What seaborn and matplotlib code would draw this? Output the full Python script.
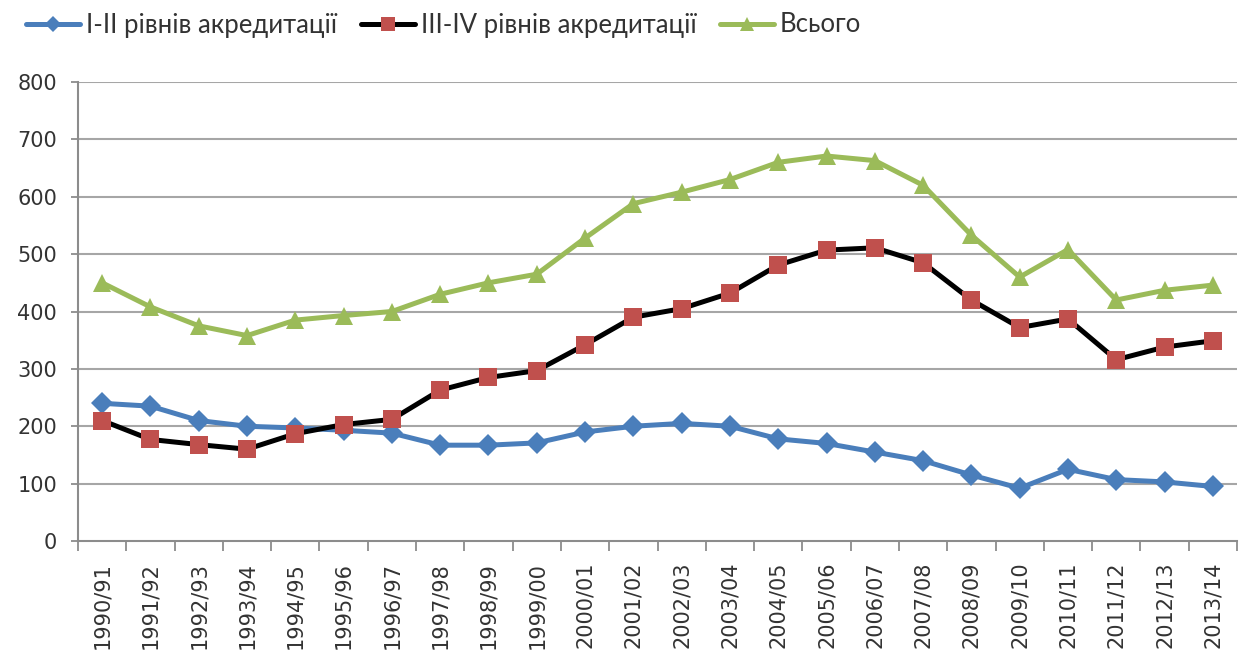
import matplotlib
matplotlib.use("Agg")
import matplotlib.pyplot as plt
import seaborn as sns
import pandas as pd
from matplotlib.ticker import FixedLocator

years = ["1990/91", "1991/92", "1992/93", "1993/94", "1994/95", "1995/96",
         "1996/97", "1997/98", "1998/99", "1999/00", "2000/01", "2001/02",
         "2002/03", "2003/04", "2004/05", "2005/06", "2006/07", "2007/08",
         "2008/09", "2009/10", "2010/11", "2011/12", "2012/13", "2013/14"]
level_1_2 = [240, 235, 210, 200, 197, 193, 188, 167, 167, 171, 190, 200,
             205, 200, 178, 170, 155, 140, 115, 92, 125, 107, 103, 95]
level_3_4 = [210, 177, 168, 160, 187, 203, 212, 263, 285, 297, 342, 390,
             405, 432, 481, 507, 511, 485, 420, 372, 387, 316, 338, 349]
total = [450, 408, 375, 358, 385, 393, 400, 430, 450, 465, 528, 588,
         608, 630, 660, 671, 663, 620, 533, 460, 508, 420, 437, 446]

names = ["I-II рівнів акредитації", "III-IV рівнів акредитації", "Всього"]

sns.set_theme(style="white")
plt.rcParams["font.family"] = ["DejaVu Sans"]

fig = plt.figure(figsize=(12.41, 6.59), dpi=100)
ax = fig.add_axes([78 / 1241, (659 - 541) / 659, (1237 - 78) / 1241, (541 - 82) / 659])

df1 = pd.DataFrame({"year": years, "value": level_1_2})
df2 = pd.DataFrame({"year": years, "value": level_3_4})
df3 = pd.DataFrame({"year": years, "value": total})

sns.lineplot(data=df1, x="year", y="value", sort=False, ax=ax, color="#4A7EBB",
             linewidth=3.6, marker="D", markersize=11, markeredgewidth=0,
             label=names[0], zorder=3)
sns.lineplot(data=df2, x="year", y="value", sort=False, ax=ax, color="black",
             linewidth=3.6, marker="s", markersize=13, markerfacecolor="#C0504D",
             markeredgecolor="#C0504D", markeredgewidth=0, label=names[1], zorder=4)
sns.lineplot(data=df3, x="year", y="value", sort=False, ax=ax, color="#9BBB59",
             linewidth=3.6, marker="^", markersize=13, markeredgewidth=0,
             label=names[2], zorder=2)

ax.set_xlim(-0.5, len(years) - 0.5)
ax.set_ylim(0, 800)
ax.set_yticks(range(0, 801, 100))
ax.set_xlabel("")
ax.set_ylabel("")

for y in range(100, 801, 100):
    ax.axhline(y, color="#A6A6A6", linewidth=1.5, zorder=0)

for s in ["top", "right"]:
    ax.spines[s].set_visible(False)
for s in ["left", "bottom"]:
    ax.spines[s].set_color("#8C8C8C")
    ax.spines[s].set_linewidth(1.5)

ax.set_xticks(range(len(years)))
ax.set_xticklabels(years, rotation=90, fontsize=15, color="#333333")
ax.xaxis.set_minor_locator(FixedLocator([i - 0.5 for i in range(len(years) + 1)]))
ax.tick_params(axis="x", which="major", length=0, pad=15)
ax.tick_params(axis="x", which="minor", length=7, width=1.3, color="#8C8C8C", bottom=True)
ax.tick_params(axis="y", which="major", length=5, width=1.3, color="#8C8C8C", left=True,
               labelsize=15, labelcolor="#333333", pad=10)

handles, labels = ax.get_legend_handles_labels()
ax.get_legend().remove()
leg = fig.legend(handles, labels, loc="center left", bbox_to_anchor=(0.021, 1 - 25 / 659),
                 ncol=3, frameon=False, handlelength=2.1, columnspacing=0.9,
                 handletextpad=0.25, borderpad=0, borderaxespad=0, markerscale=0.75,
                 prop={"family": "Lato", "size": 18.5})
for t in leg.get_texts():
    t.set_color("#333333")

fig.savefig("out.png", dpi=100)
